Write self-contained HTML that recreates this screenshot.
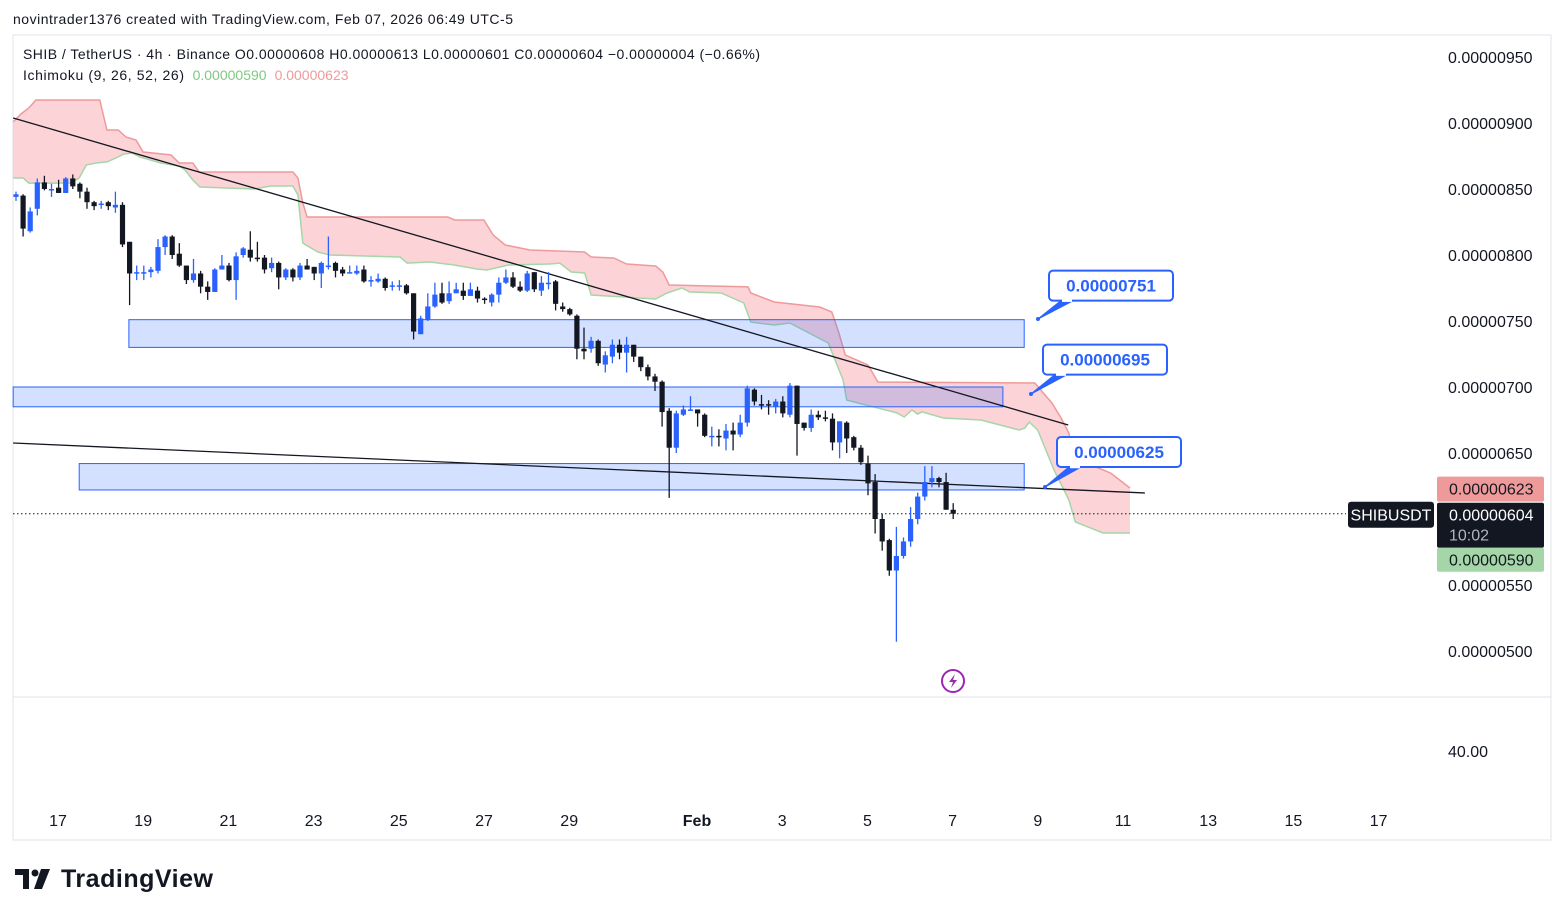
<!DOCTYPE html>
<html><head><meta charset="utf-8">
<style>
html,body{margin:0;padding:0;background:#fff;}
svg{display:block;font-family:"Liberation Sans",Arial,sans-serif;}
</style></head>
<body>
<svg id="chart" width="1564" height="916" viewBox="0 0 1564 916" xmlns="http://www.w3.org/2000/svg">
<rect x="0" y="0" width="1564" height="916" fill="#ffffff"/>
<text x="13" y="24" font-size="14" fill="#131722" textLength="500">novintrader1376 created with TradingView.com, Feb 07, 2026 06:49 UTC-5</text>
<rect x="13" y="35" width="1538" height="805" fill="none" stroke="#e0e3eb" stroke-width="1"/>
<line x1="13" y1="697" x2="1551" y2="697" stroke="#e0e3eb"/>
<g id="cloud"></g>
<g id="zones"></g>
<g id="trend"></g>
<g id="candles"></g>
<g id="yaxis"></g>
<g id="xaxis"></g>
<g id="callouts"></g>
<text x="23" y="59" font-size="14" fill="#131722" textLength="737">SHIB / TetherUS · 4h · Binance  O0.00000608 H0.00000613 L0.00000601 C0.00000604 −0.00000004 (−0.66%)</text>
<text x="23" y="80" font-size="14" fill="#131722"><tspan textLength="161">Ichimoku (9, 26, 52, 26)</tspan><tspan dx="8" fill="#81c784">0.00000590</tspan><tspan dx="8" fill="#ef9a9a">0.00000623</tspan></text>
<text x="1448" y="757" font-size="16" fill="#131722">40.00</text>
<g>
<circle cx="953" cy="681" r="11" fill="#fff" stroke="#9c27b0" stroke-width="2"/>
<path d="M955 674 L949 682 L953 682 L951 688 L957 680 L953 680 Z" fill="#9c27b0"/>
</g>
<g>
<path d="M15 869 H29 V889 H23 V875 H15 Z" fill="#131722"/>
<circle cx="35" cy="873" r="3.5" fill="#131722"/>
<path d="M41 869 H50 L42 889 H34 Z" fill="#131722"/>
<text x="61" y="887" font-size="25" font-weight="bold" fill="#131722" textLength="152">TradingView</text>
</g>
</svg>
<script>
// ---- data (price units of 1e-8) ----
const opens=[844,845,818,835,855,849,851,847,858,854,848,840,838,840,836,838,810,786,786,787,788,806,814,801,792,781,786,776,772,789,792,781,800,804,798,
798,790,794,783,789,783,792,791,786,792,794,789,786,786,789,780,780,782,776,776,777,771,740,751,761,771,765,771,773,769,773,767,764,
770,779,783,776,773,787,773,779,780,761,759,754,729,729,735,717,723,732,726,732,723,715,708,704,682,654,679,683,683,679,662,663,
661,667,664,673,698,687,687,685,689,679,701,673,669,679,677,676,658,673,662,654,642,628,600,584,561,572,583,600,617,628,631,628,607];
const highs=[848,846,836,858,860,854,857,859,861,855,851,841,841,841,848,840,810,792,792,791,812,815,815,809,792,797,788,780,790,800,794,802,806,818,810,
800,798,795,790,790,794,797,791,795,814,795,791,792,792,792,784,786,783,780,781,778,771,754,771,779,779,780,779,779,779,776,768,771,
783,789,787,780,788,787,784,787,781,764,760,755,745,738,736,727,736,736,738,732,723,717,710,705,684,682,686,693,683,680,670,668,
672,673,679,701,699,694,690,691,693,703,701,673,683,682,682,680,674,674,663,656,648,634,604,585,594,586,609,620,640,640,632,635,612];
const lows=[841,814,817,830,849,844,847,847,850,843,835,834,835,834,832,806,762,781,781,783,786,800,797,791,778,779,771,766,772,789,780,766,798,795,795,
786,787,774,781,780,781,789,781,775,789,783,784,786,785,779,776,779,773,773,773,770,736,740,750,760,763,763,772,766,772,764,763,761,
764,778,775,772,772,772,769,774,758,757,754,721,721,726,716,711,718,721,711,719,712,705,697,670,616,650,678,682,670,662,655,655,
652,652,662,670,686,683,679,680,677,677,648,667,666,675,674,652,646,650,652,641,618,589,576,557,507,570,579,596,614,624,624,607,600];
const closes=[846,820,833,855,850,850,847,858,852,848,840,837,839,837,838,808,786,787,787,789,806,814,800,792,781,786,776,772,789,792,781,799,805,798,797,
789,794,783,789,783,792,789,786,794,792,788,786,787,788,780,781,782,775,777,777,771,742,752,761,770,764,771,774,769,774,767,766,770,
779,783,776,773,786,774,779,779,763,759,755,729,727,735,718,724,732,726,732,723,715,708,704,681,654,680,683,683,680,663,663,662,
667,664,673,699,689,686,686,689,680,701,672,669,679,677,676,658,674,661,654,643,627,600,583,561,572,583,600,617,628,631,628,607,604];
// Ichimoku cloud (candle index, value)
const spanBIdx=[-0.4,0.7,1.8,2.8,11.8,12.8,14.4,15.5,16.9,17.9,21.8,23,24.9,25.8,39,39.7,40.4,41,60.8,61.8,65.9,67.2,68.9,72.4,80.1,81,84.2,86,90.1,91.1,92,103.1,103.5,106.8,113.2,114.9,115.9,116.8,120,121.4,143.5,145.9,147.2,148.3,148.9,152.1,154.2,156.9];
const spanBVal=[900.8,906.8,911.4,917.4,917.4,894.7,894.7,889.4,887.1,878,875.8,869.7,869.7,862.9,862.9,858.3,839.4,828.8,828.8,826.5,826.5,815.2,807.6,803.8,802.3,798.5,797.7,793.2,791.7,787.1,777.3,775.8,771.2,764.4,760.6,756.8,740.9,724.2,716.7,703.8,703,687.9,676.5,665.1,647,639.4,634.8,623.5];
const spanAIdx=[-0.4,1,1.8,7.7,8.9,9.9,11.3,12.8,14.1,15.2,16.3,17.5,20.4,23,23.8,24.9,25.9,33.5,35.9,39,39.7,40.4,42.5,44.2,54.1,55.1,58.3,61.7,64.9,66.3,69.4,75.2,76.6,78.2,80.1,81,90.1,91.7,93.8,94.9,99.3,102.5,103.5,106.8,109,114.4,116.5,117,121.4,124.1,125.1,126.2,127,127.6,130.6,135.9,141.3,142.1,142.7,143.9,146.2,148.3,149.2,153.1,156.9];
const spanAVal=[858.3,858.3,854.5,854.5,858.3,868.2,869.7,870.5,873.5,876.5,877.3,874.2,869.7,867.4,864.4,856.8,851.5,850,852.3,852.3,845.5,809.1,802.3,800,798.5,793.9,794.7,792.4,789.4,788.6,792.4,793.2,793.9,787.1,786.4,769.7,766.7,771.2,775,772,771.2,763.6,749.2,747,748.5,733.3,705.3,690.1,684.1,680.3,677.3,682.6,679.5,681.1,676.5,675,667.4,668.9,673.5,667.4,637.1,614.4,597.7,589.4,589.4];
// zones (price bounds) and their start/end candle index
const zoneTop=[751,700,642];
const zoneBot=[730,685,622];
const zoneStart=[15.9,-0.4,8.9];
const zoneEnd=[142,139,142];
// trendlines: [idx1,val1,idx2,val2]
const trendA=[-0.4,903.8,148.2,671.2];
const trendB=[-0.4,657.6,159,619.7];
// axis ticks
const priceTicks=[950,900,850,800,750,700,650,600,550,500];
const priceTickLabels=["0.00000950","0.00000900","0.00000850","0.00000800","0.00000750","0.00000700","0.00000650","","0.00000550","0.00000500"];
const dayOffsets=[0,2,4,6,8,10,12,15,17,19,21,23,25,27,29,31];
const dayLabels=["17","19","21","23","25","27","29","Feb","3","5","7","9","11","13","15","17"];
// callouts
const calloutVals=[751,695,625];
const calloutText=["0.00000751","0.00000695","0.00000625"];
const lastPrice=604, spanAlast=590, spanBlast=623;

// ---- scales ----
const NS="http://www.w3.org/2000/svg";
function X(i){return 16+i*7.1;}
function Y(v){return 57+(950-v)*1.32;}
function DX(d){return 58+d*42.6;}
function mk(tag,attrs,parent){const e=document.createElementNS(NS,tag);for(const k in attrs)e.setAttribute(k,attrs[k]);parent.appendChild(e);return e;}

// cloud
const cloud=document.getElementById('cloud');
let pts=[];
for(let k=0;k<spanBIdx.length;k++)pts.push(X(spanBIdx[k]).toFixed(1)+','+Y(spanBVal[k]).toFixed(1));
for(let k=spanAIdx.length-1;k>=0;k--)pts.push(X(spanAIdx[k]).toFixed(1)+','+Y(spanAVal[k]).toFixed(1));
const cf=mk('polygon',{points:pts.join(' '),fill:'rgba(242,54,69,0.22)'},cloud);


const lb=mk('polyline',{points:spanBIdx.map((v,k)=>X(v).toFixed(1)+','+Y(spanBVal[k]).toFixed(1)).join(' '),fill:'none',stroke:'#ef9a9a','stroke-width':1.5},cloud);


const la=mk('polyline',{points:spanAIdx.map((v,k)=>X(v).toFixed(1)+','+Y(spanAVal[k]).toFixed(1)).join(' '),fill:'none',stroke:'#a5d6a7','stroke-width':1.5},cloud);



// zones
const zones=document.getElementById('zones');
for(let k=0;k<zoneTop.length;k++){
  const r=mk('rect',{x:X(zoneStart[k]),y:Y(zoneTop[k]),width:X(zoneEnd[k])-X(zoneStart[k]),height:Y(zoneBot[k])-Y(zoneTop[k]),fill:'rgba(41,98,255,0.2)',stroke:'#2962ff','stroke-width':1},zones);
  
  
}
// trendlines
const trend=document.getElementById('trend');
[trendA,trendB].forEach(t=>{
  const l=mk('line',{x1:X(t[0]),y1:Y(t[1]),x2:X(t[2]),y2:Y(t[3]),stroke:'#131722','stroke-width':1.3},trend);
  
  
});
// last price dotted line
const dl=mk('line',{x1:13,y1:Y(lastPrice),x2:1346,y2:Y(lastPrice),stroke:'#131722','stroke-width':1,'stroke-dasharray':'1.5,2.5'},trend);



// candles
const cg=document.getElementById('candles');
for(let i=0;i<opens.length;i++){
  const up=closes[i]>=opens[i];const col=up?'#2962ff':'#131722';const x=X(i);
  const w=mk('line',{x1:x,y1:Y(highs[i]),x2:x,y2:Y(lows[i]),stroke:col,'stroke-width':1.3},cg);
  
  
  const top=Y(Math.max(opens[i],closes[i])),bot=Y(Math.min(opens[i],closes[i]));
  const b=mk('rect',{x:x-2.6,y:top,width:5.2,height:Math.max(1.5,bot-top),fill:col},cg);
  
  
}

// y axis
const ya=document.getElementById('yaxis');
for(let k=0;k<priceTicks.length;k++){
  if(!priceTickLabels[k])continue;
  const t=mk('text',{x:1448,y:Y(priceTicks[k])+6,'font-size':16,fill:'#131722'},ya);
  t.textContent=priceTickLabels[k];
  
  
}
function fmt(v){return '0.00000'+String(Math.round(v)).padStart(3,'0');}
// price badges
const bB=mk('rect',{x:1437,y:Y(spanBlast)-12,width:107,height:25,rx:2,fill:'#ef9a9a'},ya);


const tB=mk('text',{x:1449,y:Y(spanBlast)+6,'font-size':16,fill:'#131722'},ya);tB.textContent=fmt(spanBlast);


const lpTop=Y(lastPrice)-11;
const bL=mk('rect',{x:1437,y:lpTop,width:107,height:45,rx:2,fill:'#131722'},ya);


const tL=mk('text',{x:1449,y:Y(lastPrice)+7,'font-size':16,fill:'#ffffff'},ya);tL.textContent=fmt(lastPrice);


const tC=mk('text',{x:1449,y:Y(lastPrice)+27,'font-size':16,fill:'#b2b5be'},ya);tC.textContent='10:02';


// span A badge pushed below last-price badge (label collision avoidance)
const aTop=Math.max(Y(spanAlast)-12,lpTop+45);
const bA=mk('rect',{x:1437,y:aTop,width:107,height:24,rx:2,fill:'#a5d6a7'},ya);


const tA=mk('text',{x:1449,y:aTop+18,'font-size':16,fill:'#131722'},ya);tA.textContent=fmt(spanAlast);


const bS=mk('rect',{x:1348,y:Y(lastPrice)-12,width:86,height:26,rx:3,fill:'#131722'},ya);


const tS=mk('text',{x:1391,y:Y(lastPrice)+7,'font-size':16,fill:'#ffffff','text-anchor':'middle'},ya);tS.textContent='SHIBUSDT';



// x axis
const xa=document.getElementById('xaxis');
for(let k=0;k<dayOffsets.length;k++){
  const t=mk('text',{x:DX(dayOffsets[k]),y:826,'font-size':16,fill:'#131722','text-anchor':'middle','font-weight':dayLabels[k]==='Feb'?'bold':'normal'},xa);
  t.textContent=dayLabels[k];
  
  
}

// callouts
const co=document.getElementById('callouts');
const boxX=[1049,1043,1057],anchorX=[1038,1031,1045],anchorY=[319,394,487];
for(let k=0;k<calloutVals.length;k++){
  const by=Y(calloutVals[k])-49;
  const g=mk('g',{},co);
  
  
  mk('path',{d:`M${anchorX[k]} ${anchorY[k]} L${boxX[k]+12} ${by+30} L${boxX[k]+24} ${by+30} Z`,fill:'#2962ff',stroke:'#2962ff','stroke-width':1.2},g);
  mk('rect',{x:boxX[k],y:by,width:124,height:30,rx:4,fill:'#fff',stroke:'#2962ff','stroke-width':2},g);
  mk('line',{x1:boxX[k]+13,y1:by+30,x2:boxX[k]+23,y2:by+30,stroke:'#fff','stroke-width':2.5},g);
  mk('circle',{cx:anchorX[k],cy:anchorY[k],r:2,fill:'#2962ff'},g);
  const t=mk('text',{x:boxX[k]+62,y:by+21,'font-size':17,'font-weight':'bold',fill:'#2962ff','text-anchor':'middle'},g);
  t.textContent=calloutText[k];
}
</script>
</body></html>
